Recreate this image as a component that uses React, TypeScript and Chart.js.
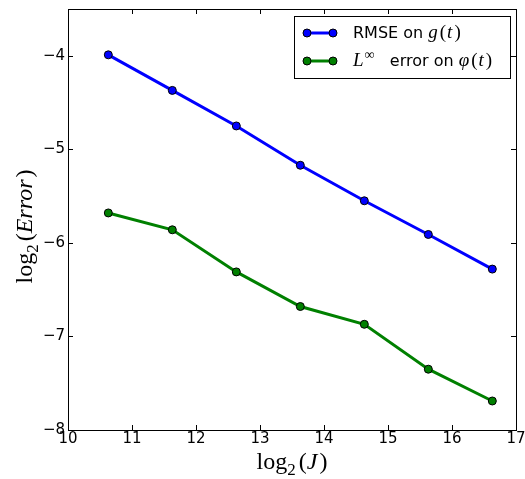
import { useEffect, useRef } from 'react';
import { Chart, registerables } from 'chart.js';
Chart.register(...registerables);

const log2J = [10.63, 11.63, 12.63, 13.63, 14.63, 15.63, 16.63];
const rmseG = [-3.99, -4.37, -4.75, -5.17, -5.55, -5.91, -6.28];
const linfPhi = [-5.68, -5.86, -6.31, -6.68, -6.87, -7.35, -7.69];
const xTicks = [10, 11, 12, 13, 14, 15, 16, 17];
const yTicks = [-8, -7, -6, -5, -4];
const seriesNames = ['RMSE on g(t)', 'L∞ error on φ(t)'];
const seriesColors = ['#0000ff', '#008000'];

type Seg = { t: string; f: string; dy?: number; gap?: number };

const SERIF = '"Liberation Serif", "DejaVu Serif", serif';
const SANS = '"DejaVu Sans", sans-serif';

function segWidth(ctx: CanvasRenderingContext2D, segs: Seg[]) {
  let w = 0;
  for (const s of segs) {
    ctx.font = s.f;
    w += ctx.measureText(s.t).width + (s.gap || 0);
  }
  return w;
}

function drawSegs(ctx: CanvasRenderingContext2D, segs: Seg[], x: number, y: number) {
  let cx = x;
  ctx.textBaseline = 'alphabetic';
  ctx.textAlign = 'left';
  for (const s of segs) {
    ctx.font = s.f;
    ctx.fillText(s.t, cx, y + (s.dy || 0));
    cx += ctx.measureText(s.t).width + (s.gap || 0);
  }
}

const TF = 24;
const xTitle: Seg[] = [
  { t: 'log', f: `${TF}px ${SERIF}` },
  { t: '2', f: `${Math.round(TF * 0.7)}px ${SERIF}`, dy: 6, gap: 3 },
  { t: '(', f: `${TF}px ${SERIF}` },
  { t: 'J', f: `italic ${TF}px ${SERIF}`, gap: 2 },
  { t: ')', f: `${TF}px ${SERIF}` },
];
const yTitle: Seg[] = [
  { t: 'log', f: `${TF}px ${SERIF}` },
  { t: '2', f: `${Math.round(TF * 0.7)}px ${SERIF}`, dy: 6, gap: 3 },
  { t: '(', f: `${TF}px ${SERIF}` },
  { t: 'Error', f: `italic ${TF}px ${SERIF}`, gap: 2 },
  { t: ')', f: `${TF}px ${SERIF}` },
];
const MF = 19;
const LF = 16;
const legendSegs: Seg[][] = [
  [
    { t: 'RMSE on ', f: `${LF}px ${SANS}` },
    { t: 'g', f: `italic ${MF}px ${SERIF}`, gap: 2 },
    { t: '(', f: `${MF}px ${SERIF}`, gap: 1 },
    { t: 't', f: `italic ${MF}px ${SERIF}`, gap: 2 },
    { t: ')', f: `${MF}px ${SERIF}` },
  ],
  [
    { t: 'L', f: `italic ${MF}px ${SERIF}`, gap: 1 },
    { t: '∞', f: `14px ${SERIF}`, dy: -7 },
    { t: '   error on ', f: `${LF}px ${SANS}` },
    { t: 'φ', f: `italic ${MF}px ${SERIF}`, gap: 2 },
    { t: '(', f: `${MF}px ${SERIF}`, gap: 1 },
    { t: 't', f: `italic ${MF}px ${SERIF}`, gap: 2 },
    { t: ')', f: `${MF}px ${SERIF}` },
  ],
];

const decorPlugin = {
  id: 'decor',
  beforeDatasetsDraw(chart: any) {
    const ctx: CanvasRenderingContext2D = chart.ctx;
    const a = chart.chartArea;
    const xs = chart.scales.x;
    const ys = chart.scales.y;
    ctx.save();
    ctx.strokeStyle = '#000';
    ctx.lineWidth = 1;
    ctx.beginPath();
    const tl = 5;
    for (const v of xTicks) {
      const px = Math.round(xs.getPixelForValue(v)) + 0.5;
      ctx.moveTo(px, a.bottom);
      ctx.lineTo(px, a.bottom - tl);
      ctx.moveTo(px, a.top);
      ctx.lineTo(px, a.top + tl);
    }
    for (const v of yTicks) {
      const py = Math.round(ys.getPixelForValue(v)) + 0.5;
      ctx.moveTo(a.left, py);
      ctx.lineTo(a.left + tl, py);
      ctx.moveTo(a.right, py);
      ctx.lineTo(a.right - tl, py);
    }
    ctx.stroke();
    ctx.strokeRect(Math.round(a.left) + 0.5, Math.round(a.top) + 0.5, Math.round(a.right - a.left), Math.round(a.bottom - a.top));
    ctx.restore();
  },
  afterDraw(chart: any) {
    const ctx: CanvasRenderingContext2D = chart.ctx;
    const a = chart.chartArea;
    ctx.save();
    ctx.fillStyle = '#000';
    // x title
    const cxm = (a.left + a.right) / 2;
    drawSegs(ctx, xTitle, cxm - segWidth(ctx, xTitle) / 2, 469);
    // y title
    const cym = (a.top + a.bottom) / 2 + 7;
    ctx.save();
    ctx.translate(32, cym);
    ctx.rotate(-Math.PI / 2);
    drawSegs(ctx, yTitle, -segWidth(ctx, yTitle) / 2, 0);
    ctx.restore();
    // legend
    const bx = 294.5, by = 16.5, bw = 216, bh = 62;
    ctx.fillStyle = '#fff';
    ctx.fillRect(bx, by, bw, bh);
    ctx.strokeStyle = '#000';
    ctx.lineWidth = 1;
    ctx.strokeRect(bx, by, bw, bh);
    const rows = [33, 61];
    chart.data.datasets.forEach((ds: any, i: number) => {
      const y = rows[i];
      ctx.strokeStyle = ds.borderColor;
      ctx.lineWidth = 3;
      ctx.beginPath();
      ctx.moveTo(307, y);
      ctx.lineTo(333, y);
      ctx.stroke();
      for (const mx of [307, 333]) {
        ctx.beginPath();
        ctx.arc(mx, y, 4, 0, Math.PI * 2);
        ctx.fillStyle = ds.pointBackgroundColor;
        ctx.fill();
        ctx.strokeStyle = '#000';
        ctx.lineWidth = 1;
        ctx.stroke();
      }
      ctx.fillStyle = '#000';
      drawSegs(ctx, legendSegs[i], 353, y + 5);
    });
    ctx.restore();
  },
};

const zeroPad = (s: any) => {
  s.paddingTop = 0;
  s.paddingBottom = 0;
  s.paddingLeft = 0;
  s.paddingRight = 0;
};

export default function App() {
  const ref = useRef<HTMLCanvasElement | null>(null);
  useEffect(() => {
    if (!ref.current) return;
    const mk = (vals: number[]) => log2J.map((x, i) => ({ x, y: vals[i] }));
    const chart = new Chart(ref.current, {
      type: 'line',
      data: {
        datasets: [rmseG, linfPhi].map((vals, i) => ({
          label: seriesNames[i],
          data: mk(vals),
          borderColor: seriesColors[i],
          backgroundColor: seriesColors[i],
          pointBackgroundColor: seriesColors[i],
          pointBorderColor: '#000',
          pointBorderWidth: 1,
          pointRadius: 4,
          borderWidth: 3,
          fill: false,
          tension: 0,
        })),
      },
      options: {
        animation: false,
        responsive: true,
        maintainAspectRatio: false,
        layout: { padding: { top: 9, right: 9, left: 0, bottom: 0 } },
        plugins: { legend: { display: false }, tooltip: { enabled: false } },
        scales: {
          x: {
            type: 'linear',
            min: 10,
            max: 17,
            afterBuildTicks: (s: any) => { s.ticks = xTicks.map((v) => ({ value: v })); },
            afterFit: (s: any) => { s.height = 49; zeroPad(s); },
            grid: { display: false, drawTicks: false },
            border: { display: false },
            ticks: { color: '#000', font: { family: SANS, size: 15 }, padding: 0, maxRotation: 0 },
          },
          y: {
            type: 'linear',
            min: -8,
            max: -3.5,
            afterBuildTicks: (s: any) => { s.ticks = yTicks.map((v) => ({ value: v })); },
            afterFit: (s: any) => { s.width = 68; zeroPad(s); },
            grid: { display: false, drawTicks: false },
            border: { display: false },
            ticks: {
              color: '#000',
              font: { family: SANS, size: 15 },
              padding: 3,
              callback: (v: any) => String(v).replace('-', '\u2212'),
            },
          },
        },
      },
      plugins: [decorPlugin],
    } as any);
    return () => chart.destroy();
  }, []);
  return (
    <div style={{ position: 'absolute', left: 0, top: 0, width: 525, height: 479, background: '#fff' }}>
      <canvas ref={ref} />
    </div>
  );
}
